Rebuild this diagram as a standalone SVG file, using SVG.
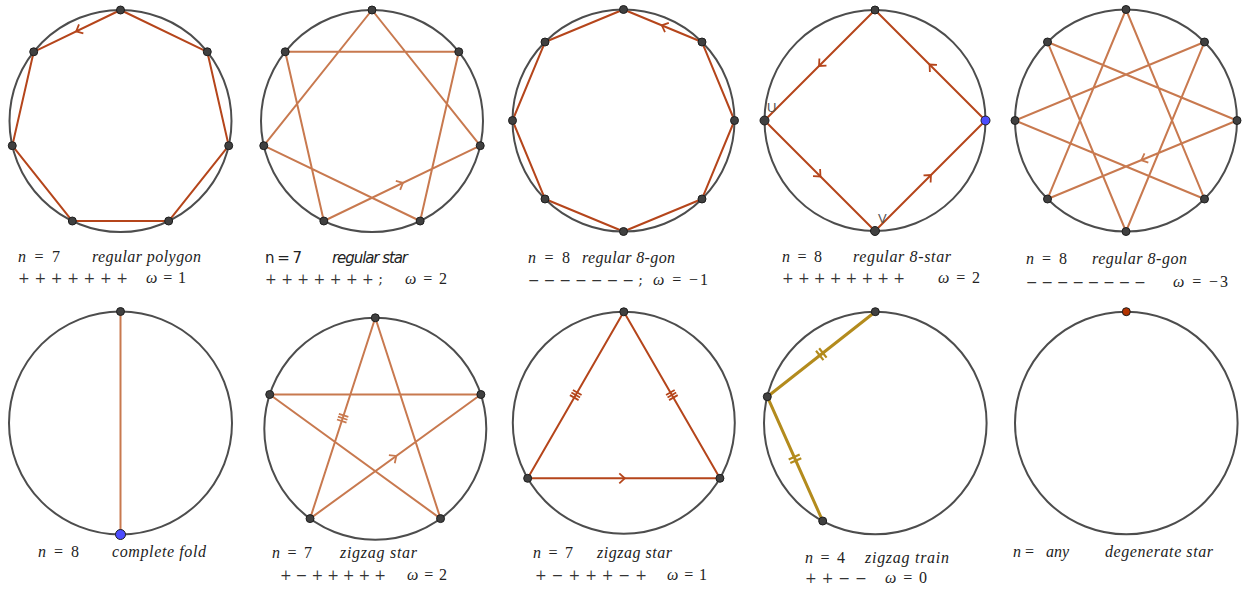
<svg xmlns="http://www.w3.org/2000/svg" xmlns:xlink="http://www.w3.org/1999/xlink" width="1248" height="595" viewBox="0 0 1248 595">
<style>
.circ{fill:none;stroke:#4d4d4d;stroke-width:2}
.ed{fill:none;stroke:#b5451b;stroke-width:2;stroke-linejoin:round}
.el{fill:none;stroke:#c8794f;stroke-width:2;stroke-linejoin:round}
.eo{fill:none;stroke:#b38b1d;stroke-width:3;stroke-linejoin:round}
.dec-d{fill:none;stroke:#b5451b;stroke-width:1.8}
.dec-l{fill:none;stroke:#c8794f;stroke-width:1.8}
.dec-o{fill:none;stroke:#b38b1d;stroke-width:2.2}
.pt{fill:#404040;stroke:#1e1e1e;stroke-width:1}
.ptb{fill:#4d4dff;stroke:#1e1e1e;stroke-width:1}
.ptr{fill:#b33300;stroke:#1e1e1e;stroke-width:1}
.m{font-family:"Liberation Serif",serif;font-size:16px;fill:#222}
.g{font-family:"DejaVu Serif","Liberation Serif",serif;font-size:14px;fill:#333}
.i{font-style:italic}
.s{font-family:"DejaVu Sans","Liberation Sans",sans-serif;font-size:15px;fill:#222}
.lbl{font-family:"Liberation Sans",sans-serif;font-size:13px;fill:#555}
</style>
<defs>
<path id="chev" d="M-4.5,-5 L1,0 L-4.5,5"/>
<path id="tick3" d="M-3,-5 L-3,5 M0,-5 L0,5 M3,-5 L3,5"/>
<path id="tick2" d="M-2,-6 L-2,6 M2,-6 L2,6"/>
</defs>

<g id="connectors">
<polygon class="ed" points="120.5,10 207.28,51.79 228.72,145.7 168.66,221.01 72.34,221.01 12.28,145.7 33.72,51.79"/>
<use xlink:href="#chev" class="dec-d" transform="translate(77.11,30.9) rotate(154.3)"/>
<polygon class="el" points="372,10 480.22,145.7 323.84,221.01 285.22,51.79 458.78,51.79 420.16,221.01 263.78,145.7"/>
<use xlink:href="#chev" class="dec-l" transform="translate(402.03,183.36) rotate(-25.71)"/>
<polygon class="ed" points="623.5,9.5 701.99,42.01 734.5,120.5 701.99,198.99 623.5,231.5 545.01,198.99 512.5,120.5 545.01,42.01"/>
<use xlink:href="#chev" class="dec-d" transform="translate(662.75,25.76) rotate(-157.5)"/>
<polygon class="ed" points="875,10 985.5,120.5 875,231 764.5,120.5"/>
<use xlink:href="#chev" class="dec-d" transform="translate(819.75,65.25) rotate(135)"/>
<use xlink:href="#chev" class="dec-d" transform="translate(819.75,175.75) rotate(45)"/>
<use xlink:href="#chev" class="dec-d" transform="translate(930.25,175.75) rotate(-45)"/>
<use xlink:href="#chev" class="dec-d" transform="translate(930.25,65.25) rotate(-135)"/>
<polygon class="el" points="1126,9.5 1204.49,198.99 1015,120.5 1204.49,42.01 1126,231.5 1047.51,42.01 1237,120.5 1047.51,198.99"/>
<use xlink:href="#chev" class="dec-l" transform="translate(1142.26,159.75) rotate(157.5)"/>
<line class="el" x1="120.5" y1="311.5" x2="120.5" y2="534.5"/>
<polygon class="el" points="375.3,317.8 440.54,518.6 269.73,394.5 480.87,394.5 310.06,518.6"/>
<use xlink:href="#tick3" class="dec-l" transform="translate(342.68,418.2) rotate(108)"/>
<use xlink:href="#chev" class="dec-l" transform="translate(395.47,456.55) rotate(-36)"/>
<polygon class="ed" points="623.8,311.8 719.93,478.3 527.67,478.3"/>
<use xlink:href="#tick3" class="dec-d" transform="translate(575.74,395.05) rotate(-60)"/>
<use xlink:href="#tick3" class="dec-d" transform="translate(671.87,395.05) rotate(60)"/>
<use xlink:href="#chev" class="dec-d" transform="translate(623.8,478.3)"/>
<polyline class="eo" points="875.3,311.7 767.3,396.7 822.7,521"/>
<use xlink:href="#tick2" class="dec-o" transform="translate(821.3,354.2) rotate(-38.2)"/>
<use xlink:href="#tick2" class="dec-o" transform="translate(795,458.85) rotate(65.97)"/>
</g>

<g id="panel-1">
<circle class="circ" cx="120.5" cy="121" r="111"/>
<circle class="pt" cx="120.5" cy="10" r="4"/><circle class="pt" cx="207.28" cy="51.79" r="4"/><circle class="pt" cx="228.72" cy="145.7" r="4"/><circle class="pt" cx="168.66" cy="221.01" r="4"/><circle class="pt" cx="72.34" cy="221.01" r="4"/><circle class="pt" cx="12.28" cy="145.7" r="4"/><circle class="pt" cx="33.72" cy="51.79" r="4"/>
<text class="m" x="18" y="262" textLength="42" lengthAdjust="spacing"><tspan class="i">n</tspan> = 7</text>
<text class="m i" x="92" y="262" textLength="109" lengthAdjust="spacing">regular polygon</text>
<text class="g" x="18" y="283" textLength="110" lengthAdjust="spacing">+++++++</text>
<text class="m" x="146" y="283" textLength="40" lengthAdjust="spacing"><tspan class="i">ω</tspan> = 1</text>
</g>

<g id="panel-2">
<circle class="circ" cx="372" cy="121" r="111"/>
<circle class="pt" cx="372" cy="10" r="4"/><circle class="pt" cx="458.78" cy="51.79" r="4"/><circle class="pt" cx="480.22" cy="145.7" r="4"/><circle class="pt" cx="420.16" cy="221.01" r="4"/><circle class="pt" cx="323.84" cy="221.01" r="4"/><circle class="pt" cx="263.78" cy="145.7" r="4"/><circle class="pt" cx="285.22" cy="51.79" r="4"/>
<text class="s" x="265" y="263" textLength="37" lengthAdjust="spacing">n = 7</text>
<text class="s i" x="332" y="263" textLength="76" lengthAdjust="spacing">regular star</text>
<text class="g" x="265" y="284" textLength="118" lengthAdjust="spacing">+++++++;</text>
<text class="m" x="405" y="284" textLength="42" lengthAdjust="spacing"><tspan class="i">ω</tspan> = 2</text>
</g>

<g id="panel-3">
<circle class="circ" cx="623.5" cy="120.5" r="111"/>
<circle class="pt" cx="623.5" cy="9.5" r="4"/><circle class="pt" cx="701.99" cy="42.01" r="4"/><circle class="pt" cx="734.5" cy="120.5" r="4"/><circle class="pt" cx="701.99" cy="198.99" r="4"/><circle class="pt" cx="623.5" cy="231.5" r="4"/><circle class="pt" cx="545.01" cy="198.99" r="4"/><circle class="pt" cx="512.5" cy="120.5" r="4"/><circle class="pt" cx="545.01" cy="42.01" r="4"/>
<text class="m" x="528" y="263" textLength="42" lengthAdjust="spacing"><tspan class="i">n</tspan> = 8</text>
<text class="m i" x="582" y="263" textLength="93" lengthAdjust="spacing">regular 8-gon</text>
<text class="g" x="528" y="285" textLength="115" lengthAdjust="spacing">−−−−−−−;</text>
<text class="m" x="653" y="285" textLength="55" lengthAdjust="spacing"><tspan class="i">ω</tspan> = −1</text>
</g>

<g id="panel-4">
<circle class="circ" cx="875" cy="120.5" r="110.5"/>
<circle class="pt" cx="875" cy="10" r="4"/><circle class="pt" cx="764.5" cy="120.5" r="4.5"/><circle class="pt" cx="875" cy="231" r="4.5"/><circle class="ptb" cx="985.5" cy="120.5" r="4.5"/>
<text class="lbl" x="767" y="112">U</text>
<text class="lbl" x="878" y="223">V</text>
<text class="m" x="782" y="262" textLength="40" lengthAdjust="spacing"><tspan class="i">n</tspan> = 8</text>
<text class="m i" x="853" y="262" textLength="98" lengthAdjust="spacing">regular 8-star</text>
<text class="g" x="782" y="283" textLength="123" lengthAdjust="spacing">++++++++</text>
<text class="m" x="938" y="283" textLength="42" lengthAdjust="spacing"><tspan class="i">ω</tspan> = 2</text>
</g>

<g id="panel-5">
<circle class="circ" cx="1126" cy="120.5" r="111"/>
<circle class="pt" cx="1126" cy="9.5" r="4"/><circle class="pt" cx="1204.49" cy="42.01" r="4"/><circle class="pt" cx="1237" cy="120.5" r="4"/><circle class="pt" cx="1204.49" cy="198.99" r="4"/><circle class="pt" cx="1126" cy="231.5" r="4"/><circle class="pt" cx="1047.51" cy="198.99" r="4"/><circle class="pt" cx="1015" cy="120.5" r="4"/><circle class="pt" cx="1047.51" cy="42.01" r="4"/>
<text class="m" x="1026" y="264" textLength="41" lengthAdjust="spacing"><tspan class="i">n</tspan> = 8</text>
<text class="m i" x="1092" y="264" textLength="95" lengthAdjust="spacing">regular 8-gon</text>
<text class="g" x="1026" y="287" textLength="120" lengthAdjust="spacing">−−−−−−−−</text>
<text class="m" x="1173" y="287" textLength="55" lengthAdjust="spacing"><tspan class="i">ω</tspan> = −3</text>
</g>

<g id="panel-6">
<circle class="circ" cx="120.5" cy="423" r="111.5"/>
<circle class="pt" cx="120.5" cy="311.5" r="4"/><circle class="ptb" cx="120.5" cy="534.5" r="5"/>
<text class="m" x="38" y="557" textLength="41" lengthAdjust="spacing"><tspan class="i">n</tspan> = 8</text>
<text class="m i" x="112" y="557" textLength="94" lengthAdjust="spacing">complete fold</text>
</g>

<g id="panel-7">
<circle class="circ" cx="375.3" cy="428.8" r="111"/>
<circle class="pt" cx="375.3" cy="317.8" r="4"/><circle class="pt" cx="480.87" cy="394.5" r="4"/><circle class="pt" cx="440.54" cy="518.6" r="4"/><circle class="pt" cx="310.06" cy="518.6" r="4"/><circle class="pt" cx="269.73" cy="394.5" r="4"/>
<text class="m" x="272" y="558" textLength="40" lengthAdjust="spacing"><tspan class="i">n</tspan> = 7</text>
<text class="m i" x="340" y="558" textLength="77" lengthAdjust="spacing">zigzag star</text>
<text class="g" x="280" y="580" textLength="106" lengthAdjust="spacing">+−+++++</text>
<text class="m" x="407" y="580" textLength="40" lengthAdjust="spacing"><tspan class="i">ω</tspan> = 2</text>
</g>

<g id="panel-8">
<circle class="circ" cx="623.8" cy="422.8" r="111"/>
<circle class="pt" cx="623.8" cy="311.8" r="4"/><circle class="pt" cx="719.93" cy="478.3" r="4"/><circle class="pt" cx="527.67" cy="478.3" r="4"/>
<text class="m" x="533" y="558" textLength="40" lengthAdjust="spacing"><tspan class="i">n</tspan> = 7</text>
<text class="m i" x="597" y="558" textLength="75" lengthAdjust="spacing">zigzag star</text>
<text class="g" x="535" y="580" textLength="112" lengthAdjust="spacing">+−+++−+</text>
<text class="m" x="667" y="580" textLength="40" lengthAdjust="spacing"><tspan class="i">ω</tspan> = 1</text>
</g>

<g id="panel-9">
<circle class="circ" cx="875.3" cy="423" r="111.3"/>
<circle class="pt" cx="875.3" cy="311.7" r="4"/><circle class="pt" cx="767.3" cy="396.7" r="4"/><circle class="pt" cx="822.7" cy="521" r="4"/>
<text class="m" x="805" y="563" textLength="40" lengthAdjust="spacing"><tspan class="i">n</tspan> = 4</text>
<text class="m i" x="865" y="563" textLength="84" lengthAdjust="spacing">zigzag train</text>
<text class="g" x="805" y="583" textLength="62" lengthAdjust="spacing">++−−</text>
<text class="m" x="885" y="583" textLength="42" lengthAdjust="spacing"><tspan class="i">ω</tspan> = 0</text>
</g>

<g id="panel-10">
<circle class="circ" cx="1126.3" cy="423" r="111.3"/>
<circle class="ptr" cx="1126.3" cy="311.7" r="4"/>
<text class="m" x="1013" y="557"><tspan class="i">n</tspan> =  <tspan class="i" x="1046">any</tspan></text>
<text class="m i" x="1105" y="557" textLength="108" lengthAdjust="spacing">degenerate star</text>
</g>
</svg>
